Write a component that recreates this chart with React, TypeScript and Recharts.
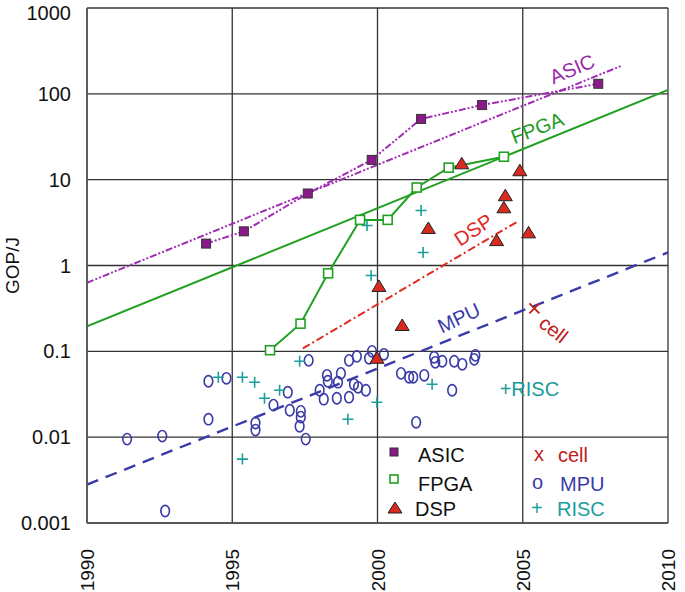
import {
  CartesianGrid,
  ComposedChart,
  Line,
  ReferenceDot,
  Scatter,
  XAxis,
  YAxis,
} from 'recharts';

// Energy efficiency (GOP/J) of processors by year, log scale.
const FONT = '"Liberation Sans", Arial, Helvetica, sans-serif';

const yearTicks = [1990, 1995, 2000, 2005, 2010];
const gopTicks = [0.001, 0.01, 0.1, 1, 10, 100, 1000];

const asicPoints = [
  { x: 1994.1, y: 1.8 },
  { x: 1995.4, y: 2.5 },
  { x: 1997.6, y: 6.9 },
  { x: 1999.8, y: 17 },
  { x: 2001.5, y: 51 },
  { x: 2003.6, y: 74 },
  { x: 2007.6, y: 131 },
];

const fpgaPoints = [
  { x: 1996.3, y: 0.103 },
  { x: 1997.35, y: 0.21 },
  { x: 1998.3, y: 0.81 },
  { x: 1999.4, y: 3.4 },
  { x: 2000.35, y: 3.4 },
  { x: 2001.35, y: 8.1 },
  { x: 2002.45, y: 13.8 },
  { x: 2004.35, y: 18.5 },
];

const dspPoints = [
  { x: 2002.9, y: 15.3 },
  { x: 2004.9, y: 12.7 },
  { x: 2004.4, y: 6.5 },
  { x: 2004.35, y: 4.7 },
  { x: 2001.75, y: 2.7 },
  { x: 2004.1, y: 1.95 },
  { x: 2005.2, y: 2.4 },
  { x: 2000.05, y: 0.57 },
  { x: 2000.85, y: 0.2 },
  { x: 1999.98, y: 0.083 },
];

const mpuPoints = [
  { x: 1994.18, y: 0.0448 },
  { x: 1994.8, y: 0.0485 },
  { x: 1994.18, y: 0.0162 },
  { x: 1991.38, y: 0.0095 },
  { x: 1992.59, y: 0.0103 },
  { x: 1992.69, y: 0.00138 },
  { x: 1995.8, y: 0.0146 },
  { x: 1995.8, y: 0.0121 },
  { x: 1996.42, y: 0.0236 },
  { x: 1996.91, y: 0.0334 },
  { x: 1996.98, y: 0.0206 },
  { x: 1997.36, y: 0.02 },
  { x: 1997.36, y: 0.0171 },
  { x: 1997.32, y: 0.0134 },
  { x: 1997.53, y: 0.0095 },
  { x: 1997.63, y: 0.0785 },
  { x: 1998.01, y: 0.0352 },
  { x: 1998.15, y: 0.0277 },
  { x: 1998.26, y: 0.0526 },
  { x: 1998.29, y: 0.0448 },
  { x: 1998.64, y: 0.0437 },
  { x: 1998.74, y: 0.0554 },
  { x: 1998.6, y: 0.0284 },
  { x: 1999.02, y: 0.0292 },
  { x: 1999.02, y: 0.0785 },
  { x: 1999.29, y: 0.0874 },
  { x: 1999.19, y: 0.0413 },
  { x: 1999.33, y: 0.0381 },
  { x: 1999.6, y: 0.0352 },
  { x: 1999.81, y: 0.1 },
  { x: 1999.71, y: 0.083 },
  { x: 2000.22, y: 0.0923 },
  { x: 2000.81, y: 0.0554 },
  { x: 2001.09, y: 0.0499 },
  { x: 2001.23, y: 0.0499 },
  { x: 2001.61, y: 0.0526 },
  { x: 2001.95, y: 0.0852 },
  { x: 2001.99, y: 0.0745 },
  { x: 2002.23, y: 0.0766 },
  { x: 2002.64, y: 0.0766 },
  { x: 2002.92, y: 0.0706 },
  { x: 2003.33, y: 0.0807 },
  { x: 2003.37, y: 0.0898 },
  { x: 2002.57, y: 0.0352 },
  { x: 2001.33, y: 0.0149 },
];

const riscPoints = [
  { x: 1999.64, y: 2.92 },
  { x: 1999.78, y: 0.766 },
  { x: 2001.5, y: 4.37 },
  { x: 2001.57, y: 1.42 },
  { x: 1997.32, y: 0.0766 },
  { x: 1994.52, y: 0.0499 },
  { x: 1995.35, y: 0.0499 },
  { x: 1995.77, y: 0.0437 },
  { x: 1996.63, y: 0.0352 },
  { x: 1996.11, y: 0.0284 },
  { x: 1995.35, y: 0.00555 },
  { x: 1998.98, y: 0.0162 },
  { x: 1999.98, y: 0.0255 },
  { x: 2001.88, y: 0.0413 },
];

const cellPoints = [{ x: 2005.4, y: 0.316 }];

// trend lines (end points)
const asicTrend = [
  { x: 1990, y: 0.63 },
  { x: 2008.4, y: 212 },
];
const fpgaTrend = [
  { x: 1990, y: 0.195 },
  { x: 2010, y: 111 },
];
const dspTrend = [
  { x: 1997.43, y: 0.108 },
  { x: 2004.82, y: 3.25 },
];
const mpuTrend = [
  { x: 1990, y: 0.0028 },
  { x: 2010, y: 1.42 },
];

const annotations = [
  { text: 'ASIC', x: 2006.7, y: 195, angle: -23, color: '#9a2aa8' },
  { text: 'FPGA', x: 2005.5, y: 40, angle: -21, color: '#229a22' },
  { text: 'DSP', x: 2003.3, y: 2.6, angle: -33, color: '#e02a1e' },
  { text: 'MPU', x: 2002.8, y: 0.245, angle: -25, color: '#3a3aa8' },
  { text: 'cell', x: 2006.06, y: 0.18, angle: 38, color: '#c0201a' },
  { text: '+RISC', x: 2005.23, y: 0.036, angle: 0, color: '#1a9a9a' },
];

const ASIC_C = '#8a1a8a';
const ASIC_LINE = '#a02cb4';
const FPGA_C = '#22a022';
const DSP_C = '#d82a1e';
const MPU_C = '#3a3aa8';
const RISC_C = '#1a9e9e';
const CELL_C = '#c0201a';

const AsicMark = (p: any) => (
  <rect x={p.cx - 4.5} y={p.cy - 4.5} width={9} height={9} fill={ASIC_C} stroke="#333" strokeWidth={1} />
);
const FpgaMark = (p: any) => (
  <rect x={p.cx - 4.5} y={p.cy - 4.5} width={9} height={9} fill="#fff" stroke={FPGA_C} strokeWidth={1.6} />
);
const DspMark = (p: any) => (
  <polygon
    points={`${p.cx},${p.cy - 6.5} ${p.cx - 7},${p.cy + 5} ${p.cx + 7},${p.cy + 5}`}
    fill={DSP_C}
    stroke="#222"
    strokeWidth={1}
  />
);
const MpuMark = (p: any) => (
  <ellipse cx={p.cx} cy={p.cy} rx={4.3} ry={5.6} fill="none" stroke={MPU_C} strokeWidth={1.6} />
);
const RiscMark = (p: any) => (
  <path d={`M${p.cx - 5.5},${p.cy}H${p.cx + 5.5}M${p.cx},${p.cy - 5.5}V${p.cy + 5.5}`} stroke={RISC_C} strokeWidth={1.6} />
);
const CellMark = (p: any) => (
  <path d={`M${p.cx - 5},${p.cy - 5}L${p.cx + 5},${p.cy + 5}M${p.cx + 5},${p.cy - 5}L${p.cx - 5},${p.cy + 5}`} stroke={CELL_C} strokeWidth={1.8} />
);

const XTick = ({ x, y, payload }: any) => (
  <text
    x={x + 7}
    y={y + 18}
    transform={`rotate(-90 ${x + 7} ${y + 18})`}
    textAnchor="end"
    fontSize={19}
    fontFamily={FONT}
    fill="#111"
  >
    {payload.value}
  </text>
);

// the top label is pushed down a little so it stays inside the picture
const YTick = ({ x, y, payload }: any) => (
  <text
    x={x - 8}
    y={y + (payload.value === 1000 ? 12 : 7)}
    textAnchor="end"
    fontSize={20}
    fontFamily={FONT}
    fill="#111"
  >
    {String(payload.value)}
  </text>
);

function Note({ cx, cy, a }: any) {
  return (
    <text
      x={cx}
      y={cy}
      transform={`rotate(${a.angle} ${cx} ${cy})`}
      textAnchor="middle"
      dominantBaseline="central"
      fontSize={20}
      fontFamily={FONT}
      fill={a.color}
    >
      {a.text}
    </text>
  );
}

function LegendBox() {
  const t = { fontSize: 20, fontFamily: FONT };
  return (
    <svg width={290} height={90} style={{ position: 'absolute', left: 385, top: 438 }}>
      <rect x={5} y={10} width={8} height={8} fill={ASIC_C} stroke="#333" strokeWidth={1} />
      <text x={33} y={24} fill="#111" {...t}>ASIC</text>
      <rect x={5} y={37} width={8} height={8} fill="#fff" stroke={FPGA_C} strokeWidth={1.6} />
      <text x={33} y={53} fill="#111" {...t}>FPGA</text>
      <polygon points="10,64 3,75 17,75" fill={DSP_C} stroke="#222" strokeWidth={1} />
      <text x={30} y={78} fill="#111" {...t}>DSP</text>
      <text x={149} y={23} fill={CELL_C} {...t}>x</text>
      <text x={173} y={24} fill={CELL_C} {...t}>cell</text>
      <text x={147} y={51} fill={MPU_C} {...t}>o</text>
      <text x={175} y={53} fill={MPU_C} {...t}>MPU</text>
      <text x={146} y={77} fill={RISC_C} {...t}>+</text>
      <text x={172} y={78} fill={RISC_C} {...t}>RISC</text>
    </svg>
  );
}

export default function App() {
  return (
    <div style={{ position: 'relative', width: 685, height: 592 }}>
      <style>{'body{margin:0}'}</style>
      <ComposedChart width={685} height={592} margin={{ top: 8, right: 17, left: 0, bottom: 0 }}>
        <CartesianGrid stroke="#333" strokeWidth={1.3} />
        <XAxis
          dataKey="x"
          type="number"
          domain={[1990, 2010]}
          ticks={yearTicks}
          interval={0}
          allowDataOverflow
          height={69}
          tickLine={false}
          axisLine={{ stroke: '#555', strokeWidth: 1.5 }}
          tick={<XTick />}
        />
        <YAxis
          dataKey="y"
          type="number"
          scale="log"
          domain={[0.001, 1000]}
          ticks={gopTicks}
          interval={0}
          allowDataOverflow
          width={87}
          tickLine={false}
          axisLine={{ stroke: '#555', strokeWidth: 1.5 }}
          tick={<YTick />}
          label={{
            content: ({ viewBox }: any) => (
              <text
                x={19}
                y={viewBox.y + viewBox.height / 2}
                transform={`rotate(-90 19 ${viewBox.y + viewBox.height / 2})`}
                textAnchor="middle"
                fontSize={19}
                fontFamily={FONT}
                fill="#111"
              >
                GOP/J
              </text>
            ),
          }}
        />

        <Line data={asicTrend} dataKey="y" stroke={ASIC_LINE} strokeWidth={2} strokeDasharray="7 2 2 2 2 2" dot={false} isAnimationActive={false} />
        <Line data={asicPoints} dataKey="y" stroke={ASIC_LINE} strokeWidth={2} strokeDasharray="7 2 2 2 2 2" dot={false} isAnimationActive={false} />
        <Line data={fpgaTrend} dataKey="y" stroke={FPGA_C} strokeWidth={2} dot={false} isAnimationActive={false} />
        <Line data={fpgaPoints} dataKey="y" stroke={FPGA_C} strokeWidth={2} dot={false} isAnimationActive={false} />
        <Line data={dspTrend} dataKey="y" stroke="#e02a1e" strokeWidth={2} strokeDasharray="8 3 2 3" dot={false} isAnimationActive={false} />
        <Line data={mpuTrend} dataKey="y" stroke={MPU_C} strokeWidth={2.4} strokeDasharray="12 8" dot={false} isAnimationActive={false} />

        <Scatter data={mpuPoints} dataKey="y" shape={MpuMark} isAnimationActive={false} />
        <Scatter data={riscPoints} dataKey="y" shape={RiscMark} isAnimationActive={false} />
        <Scatter data={asicPoints} dataKey="y" shape={AsicMark} isAnimationActive={false} />
        <Scatter data={fpgaPoints} dataKey="y" shape={FpgaMark} isAnimationActive={false} />
        <Scatter data={dspPoints} dataKey="y" shape={DspMark} isAnimationActive={false} />
        <Scatter data={cellPoints} dataKey="y" shape={CellMark} isAnimationActive={false} />

        {annotations.map((a) => (
          <ReferenceDot
            key={a.text}
            x={a.x}
            y={a.y}
            r={0}
            ifOverflow="visible"
            shape={(p: any) => <Note cx={p.cx} cy={p.cy} a={a} />}
          />
        ))}
      </ComposedChart>
      <LegendBox />
    </div>
  );
}
